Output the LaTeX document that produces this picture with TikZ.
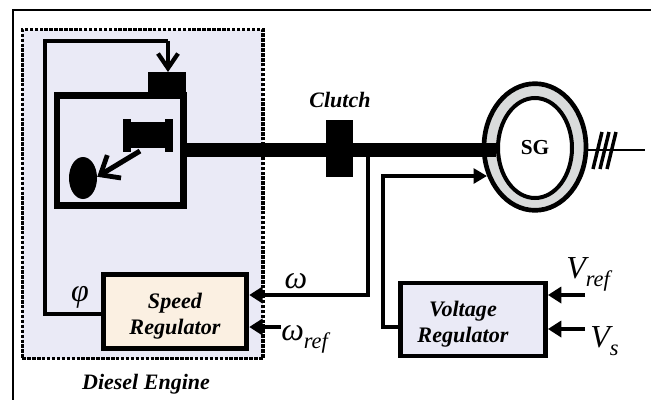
\documentclass[tikz,border=0pt]{standalone}
\usepackage{amsmath}
\usepackage{fontspec}
\setmainfont{Liberation Serif}
\usepackage{tikz}
\usetikzlibrary{positioning,calc,arrows.meta,shapes.geometric}
\definecolor{panel}{HTML}{EAEAF6}
\definecolor{speedfill}{HTML}{FBF0E2}
\definecolor{ringgrey}{HTML}{D9DBDB}
\newcommand{\symb}[1]{\text{\itshape #1}}
\newcommand{\lowsub}[1]{\raisebox{-3pt}{\fontsize{16.8}{18}\selectfont\itshape #1}}
\tikzset{
	signal/.style={line width=3pt,-{Triangle[length=10pt,width=12pt]}},
	regbox/.style={rectangle, draw=black, align=center, font=\bfseries\itshape\fontsize{16.6}{19.5}\selectfont},
	tag/.style={font=\bfseries\itshape\fontsize{16.5}{19}\selectfont},
	solid/.style={rectangle, fill=black, inner sep=0pt},
	symbnode/.style={font=\fontsize{24}{28}\selectfont, inner sep=0pt}
}
\begin{document}
\begin{tikzpicture}[x=0.75pt,y=-0.75pt]
			\useasboundingbox (0,0) rectangle (651,400);
			\coordinate (framea) at (13,400);
			\coordinate (frameb) at (651,10);
			\draw[line width=2.2pt] (framea) |- (frameb);
			\node[rectangle, fill=panel, draw=black, line width=2.6pt, dash pattern=on 2.6pt off 1.1pt, minimum width=180.4pt, minimum height=246.75pt, inner sep=0pt, anchor=north west] (diesel) at (20.5,28){};
			\node[tag] (dlabel) at (146,384){Diesel Engine};
			% engine and governor
			\node[rectangle, draw=black, line width=5.2pt, minimum width=94.9pt, minimum height=82.5pt, inner sep=0pt, anchor=north west] (engine) at (53.5,92){};
			\node[solid, minimum width=28.5pt, minimum height=18pt, anchor=north west] (actuator) at (148,72){};
			\node[solid, minimum width=36.75pt, minimum height=19.5pt, anchor=north west] (spool) at (123,122){};
			\node[solid, minimum width=6pt, minimum height=24.75pt, anchor=north west] (flangea) at (123,119){};
			\node[solid, minimum width=6pt, minimum height=24.75pt, anchor=north west] (flangeb) at (165,119){};
			\node[ellipse, fill=black, minimum width=21pt, minimum height=31.5pt, inner sep=0pt] (piston) at (83,178){};
			\coordinate (rod) at (140,151);
			\draw[line width=3.8pt, -{Straight Barb[length=12pt,width=20pt,line width=3.6pt]}] (rod) -- (piston.5);
			% generator
			\node[ellipse, draw=black, fill=ringgrey, line width=3.5pt, minimum width=76.5pt, minimum height=95pt, inner sep=0pt] (stator) at (535,147){};
			\node[ellipse, draw=black, fill=white, line width=3pt, minimum width=55.5pt, minimum height=75pt, inner sep=0pt, font=\bfseries\fontsize{16}{18}\selectfont] (sg) at (535,148){SG};
			\node[solid, minimum width=20.25pt, minimum height=42.75pt, anchor=north west] (clutch) at (326,120){};
			\node[tag] (clabel) at (340,100){Clutch};
			% shaft
			\draw[line width=10.5pt] (engine.east |- 0,150) -- (sg.west |- 0,150);
			\coordinate (busend) at (645,150);
			\draw[line width=1.9pt] (stator.east |- 0,150) -- (busend);
			\foreach \dx in {0,7,14}{
				\draw[line width=2.6pt] ($(593,169)+(\dx,0)$) -- ($(602,132)+(\dx,0)$);
			}
			% regulators
			\node[regbox, fill=speedfill, line width=3.8pt, minimum width=107.5pt, minimum height=55.5pt, inner sep=0pt] (speedreg) at (175,311.5){\rule{0pt}{18pt}Speed\\Regulator};
			\node[regbox, fill=panel, line width=3.4pt, minimum width=109pt, minimum height=55pt, inner sep=0pt] (voltreg) at (473,319.5){\rule{0pt}{18pt}Voltage\hspace*{15pt}\\Regulator\hspace*{15pt}};
			\coordinate (govcorner) at (45,41);
			\draw[line width=3pt] (speedreg.west |- 0,314) -- (45,314) -- (govcorner) -- (168,41);
			\draw[line width=3pt, -{Straight Barb[length=11pt,width=15pt,line width=3.2pt]}] (168,41) -- (actuator.north -| 168,0);
			\draw[signal] (368,157) -- (368,295) -- (speedreg.east |- 0,295);
			\coordinate (wrefin) at (281,327);
			\draw[signal] (wrefin) -- (speedreg.east |- wrefin);
			\draw[line width=3pt, -{Triangle[length=10pt,width=11pt]}] (voltreg.west |- 0,327) -- (383,327) -- (383,176) -- (487,176);
			\coordinate (vrefin) at (585,295);
			\coordinate (vsin) at (585,329);
			\draw[signal] (vrefin) -- (voltreg.east |- vrefin);
			\draw[signal] (vsin) -- (voltreg.east |- vsin);
			% signal names
			\node[symbnode, anchor=base] (phi) at (80,301){$\symb{φ}$};
			\node[symbnode, anchor=base] (omega) at (296,288){$\symb{ω}$};
			\node[symbnode, anchor=base west] (omegaref) at (281,340){$\symb{ω}_{\lowsub{ref}}$};
			\node[symbnode, anchor=base west] (vref) at (566,278){$\symb{V}_{\lowsub{ref}}$};
			\node[symbnode, anchor=base west] (vs) at (590,347){$\symb{V}_{\lowsub{s}}$};
		\end{tikzpicture}
\end{document}
